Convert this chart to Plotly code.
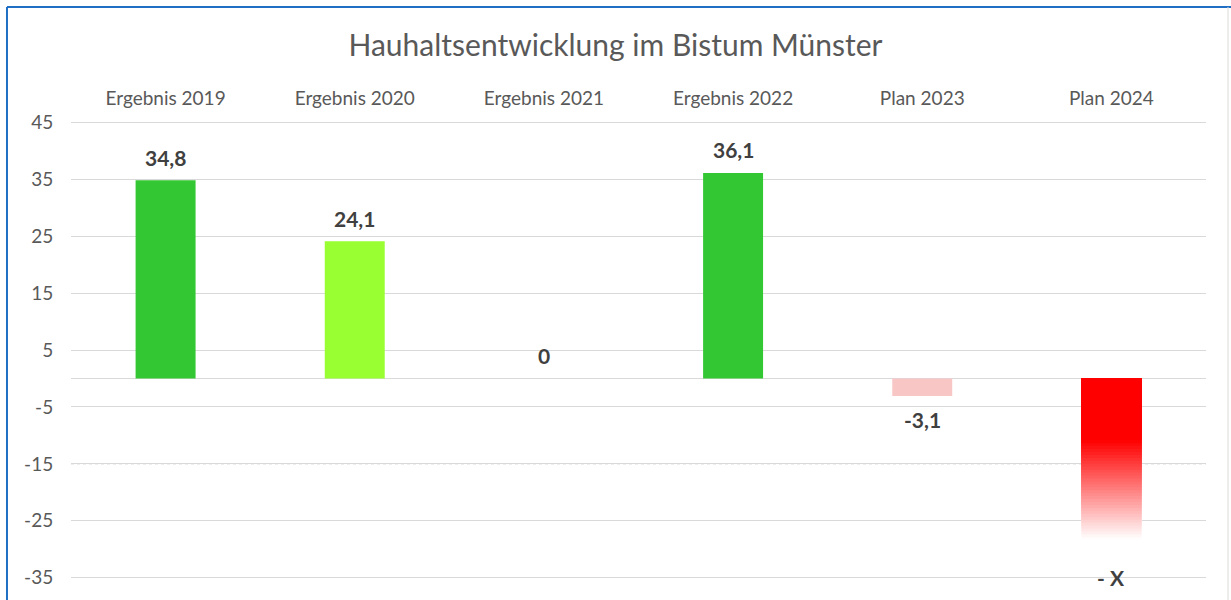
import plotly.graph_objects as go

categories = ["Ergebnis 2019", "Ergebnis 2020", "Ergebnis 2021", "Ergebnis 2022", "Plan 2023", "Plan 2024"]
values = [34.8, 24.1, 0, 36.1, -3.1, None]
bar_colors = ["#33C733", "#99FF33", "#33C733", "#33C733", "#F9C6C6", "#FF0000"]
value_labels = ["34,8", "24,1", "0", "36,1", "-3,1", "- X"]
plan2024_value = -31  # estimated extent of the faded bar
y_ticks = [45, 35, 25, 15, 5, -5, -15, -25, -35]
y_tick_labels = ["45", "35", "25", "15", "5", "-5", "-15", "-25", "-35"]
dashed_grid = [-15]

FONT = "Lato"
TXT = "#595959"

fig = go.Figure()

fig.add_trace(go.Bar(
    x=categories, y=values, marker=dict(color=bar_colors, line=dict(width=0)),
    showlegend=False, hoverinfo="skip",
))

# Gradient bar for Plan 2024: overlaid bars, longest (lightest) first
N = 60
solid_frac, fade_end = 0.36, 0.92
for k in range(N, 0, -1):
    f = k / N
    if f <= solid_frac:
        t = 0.0
    else:
        t = min(1.0, (f - solid_frac) / (fade_end - solid_frac))
    g = int(round(255 * t))
    fig.add_trace(go.Bar(
        x=[categories[-1]], y=[plan2024_value * f],
        marker=dict(color=f"rgb(255,{g},{g})", line=dict(width=0)),
        showlegend=False, hoverinfo="skip",
    ))

# value labels
label_vals = values[:-1] + [plan2024_value]
for c, v, lab in zip(categories, label_vals, value_labels):
    shift = 23 if v >= 0 else -23
    fig.add_annotation(x=c, y=v, text=f"<b>{lab}</b>", showarrow=False,
                       yshift=shift, font=dict(family=FONT, size=21, color="#404040"))

# dashed gridline overlay
for yv in dashed_grid:
    fig.add_shape(type="line", xref="paper", x0=0, x1=1, y0=yv, y1=yv,
                  line=dict(color="white", width=2), layer="between")
    fig.add_shape(type="line", xref="paper", x0=0, x1=1, y0=yv, y1=yv,
                  line=dict(color="#D0D0D0", width=1, dash="dot"), layer="between")

# frame border
fig.add_shape(type="line", xref="paper", yref="paper", x0=-0.0564, x1=1.03, y0=1.2457, y1=1.2457,
              line=dict(color="#1F6FC5", width=2))
fig.add_shape(type="line", xref="paper", yref="paper", x0=-0.0564, x1=-0.0564, y0=-0.1, y1=1.2457,
              line=dict(color="#1F6FC5", width=2))
fig.add_shape(type="line", xref="paper", yref="paper", x0=1.0194, x1=1.0194, y0=-0.1, y1=1.2457,
              line=dict(color="#D9D9D9", width=1))

fig.update_layout(
    width=1231, height=600,
    margin=dict(l=71, r=25, t=120, b=20),
    paper_bgcolor="white", plot_bgcolor="white",
    barmode="overlay", bargap=0.683,
    title=dict(text="Hauhaltsentwicklung im Bistum Münster", x=0.5, xanchor="center",
               y=0.925, yanchor="middle", font=dict(family=FONT, size=30, color=TXT)),
    xaxis=dict(side="top", type="category", categoryorder="array", categoryarray=categories,
               showgrid=False, showline=False, ticks="outside", ticklen=6, tickcolor="rgba(0,0,0,0)",
               tickfont=dict(family=FONT, size=19, color=TXT)),
    yaxis=dict(range=[-35.4, 45.4], tickmode="array", tickvals=y_ticks, ticktext=y_tick_labels,
               showgrid=True, gridcolor="#D9D9D9", gridwidth=1,
               zeroline=True, zerolinecolor="#D9D9D9", zerolinewidth=1,
               showline=False, ticks="outside", ticklen=13, tickcolor="rgba(0,0,0,0)",
               tickfont=dict(family=FONT, size=19, color=TXT)),
)

fig.write_html("out.html", config={"displayModeBar": False},
               post_script="document.body.style.margin='0';document.body.style.overflow='hidden';")
